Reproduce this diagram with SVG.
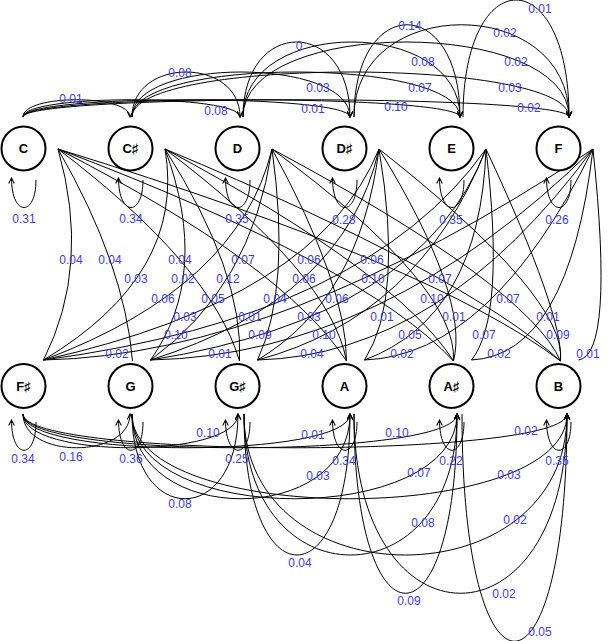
<svg xmlns="http://www.w3.org/2000/svg" width="610" height="641" viewBox="0 0 610 641">
<style>
.e{fill:none;stroke:#000;stroke-width:1}
.a{marker-end:url(#arr)}
.n circle{fill:#fff;stroke:#000;stroke-width:2}
.n text{font-family:"Liberation Sans",Arial,"DejaVu Sans",sans-serif;font-size:13px;font-weight:bold;text-anchor:middle;fill:#000}
.l{font-family:"Liberation Sans",Arial,sans-serif;font-size:12px;fill:#3b3bf2;text-anchor:middle}
</style>
<defs>
<marker id="arr" viewBox="0 0 10 10" refX="9" refY="5" markerWidth="7" markerHeight="7" markerUnits="userSpaceOnUse" orient="auto">
<path d="M1,1 L9,5 L1,9" fill="none" stroke="#000" stroke-width="1.5"/>
</marker>
</defs>
<rect width="610" height="641" fill="#fff"/>
<g id="connectors">
<!-- top row arcs -->
<path class="e a" d="M23,117 C23,94 130,94 130,117"/>
<path class="e a" d="M23,117 C23,94 240,94 240,117"/>
<path class="e a" d="M23,117 C23,94 350,94 350,117"/>
<path class="e a" d="M23,117 C23,94 460,94 460,117"/>
<path class="e a" d="M23,117 C23,94 569,94 569,117"/>
<path class="e a" d="M132,117 C132,57 240,57 240,117"/>
<path class="e a" d="M132,117 C132,57 350,57 350,117"/>
<path class="e a" d="M132,117 C132,57 460,57 460,117"/>
<path class="e a" d="M132,117 C132,57 569,57 569,117"/>
<path class="e a" d="M243,117 C243,17 350,17 350,117"/>
<path class="e a" d="M243,117 C243,17 460,17 460,117"/>
<path class="e a" d="M243,117 C243,17 569,17 569,117"/>
<path class="e a" d="M354,117 C354,-6 460,-6 460,117"/>
<path class="e a" d="M354,117 C354,-6 569,-6 569,117"/>
<path class="e a" d="M463,117 C463,-39 569,-39 569,117"/>
<!-- bottom row arcs -->
<path class="e a" d="M23,414 C23,459 130,459 130,414"/>
<path class="e a" d="M23,414 C23,459 238,459 238,414"/>
<path class="e a" d="M23,414 C23,459 350,459 350,414"/>
<path class="e a" d="M23,414 C23,459 457,459 457,414"/>
<path class="e a" d="M23,414 C23,459 567,459 567,414"/>
<path class="e a" d="M132,414 C132,527 238,527 238,414"/>
<path class="e a" d="M132,414 C132,527 350,527 350,414"/>
<path class="e a" d="M132,414 C132,527 457,527 457,414"/>
<path class="e a" d="M132,414 C132,527 567,527 567,414"/>
<path class="e a" d="M244,414 C244,602 350,602 350,414"/>
<path class="e a" d="M244,414 C244,602 457,602 457,414"/>
<path class="e a" d="M244,414 C244,602 567,602 567,414"/>
<path class="e a" d="M354,414 C354,653 457,653 457,414"/>
<path class="e a" d="M354,414 C354,653 567,653 567,414"/>
<path class="e a" d="M462,414 C462,717 567,717 567,414"/>
<!-- self loops top -->
<path class="e a" d="M36,180 C36,217 11.5,217 11.5,178"/>
<path class="e a" d="M143,180 C143,217 118.5,217 118.5,178"/>
<path class="e a" d="M250,180 C250,217 225.5,217 225.5,178"/>
<path class="e a" d="M357,180 C357,217 332.5,217 332.5,178"/>
<path class="e a" d="M464,180 C464,217 439.5,217 439.5,178"/>
<path class="e a" d="M571,180 C571,217 546.5,217 546.5,178"/>
<!-- self loops bottom -->
<path class="e a" d="M36,422 C36,460 11.5,460 11.5,420"/>
<path class="e a" d="M143,422 C143,460 118.5,460 118.5,420"/>
<path class="e a" d="M250,422 C250,460 225.5,460 225.5,420"/>
<path class="e a" d="M357,422 C357,460 332.5,460 332.5,420"/>
<path class="e a" d="M464,422 C464,460 439.5,460 439.5,420"/>
<path class="e a" d="M571,422 C571,460 546.5,460 546.5,420"/>
<!-- top to bottom -->
<path class="e" d="M58,149 Q91.3,265.5 43.5,360"/>
<path class="e" d="M58,149 Q124.8,265 132.5,361"/>
<path class="e" d="M58,149 Q211.3,265 239.5,361"/>
<path class="e" d="M58,149 Q283.8,265 346.5,361"/>
<path class="e" d="M58,149 Q364.3,265 453.5,361"/>
<path class="e" d="M58,149 Q434.8,265 560.5,361"/>
<path class="e" d="M165,149 Q186.4,274.4 43.5,360"/>
<path class="e" d="M165,149 Q211.3,274.4 150.5,360"/>
<path class="e" d="M165,149 Q244.1,273.7 239.5,361"/>
<path class="e" d="M165,149 Q330.3,273.7 346.5,361"/>
<path class="e" d="M165,149 Q398.1,273.7 453.5,361"/>
<path class="e" d="M165,149 Q463.8,273.7 560.5,361"/>
<path class="e" d="M272,149 Q238.6,287 43.5,360"/>
<path class="e" d="M272,149 Q252,287 150.5,360"/>
<path class="e" d="M272,149 Q291.4,287 257.5,360"/>
<path class="e" d="M272,149 Q346.8,286.1 346.5,361"/>
<path class="e" d="M272,149 Q457.9,286.1 453.5,361"/>
<path class="e" d="M272,149 Q527.7,286.1 560.5,361"/>
<path class="e" d="M379,149 Q318.6,298.7 43.5,360"/>
<path class="e" d="M379,149 Q345.5,298.7 150.5,360"/>
<path class="e" d="M379,149 Q360.2,298.7 257.5,360"/>
<path class="e" d="M379,149 Q404,298.7 364.5,360"/>
<path class="e" d="M379,149 Q469.9,297.4 453.5,361"/>
<path class="e" d="M379,149 Q567.2,297.4 560.5,361"/>
<path class="e" d="M486,149 Q367.2,316.9 43.5,360"/>
<path class="e" d="M486,149 Q422.3,316.9 150.5,360"/>
<path class="e" d="M486,149 Q419.1,316.9 257.5,360"/>
<path class="e" d="M486,149 Q480,316.9 364.5,360"/>
<path class="e" d="M486,149 Q505.9,316.9 471.5,360"/>
<path class="e" d="M486,149 Q563.7,315.2 560.5,361"/>
<path class="e" d="M593,149 Q283.3,355.1 43.5,360"/>
<path class="e" d="M593,149 Q384,355.1 150.5,360"/>
<path class="e" d="M593,149 Q441.6,355.1 257.5,360"/>
<path class="e" d="M593,149 Q491.4,355.1 364.5,360"/>
<path class="e" d="M593,149 Q568.6,355.1 471.5,360"/>
<path class="e" d="M593,149 Q614.5,355.1 578.5,360"/>
</g>
<g id="edge-labels">
<text class="l" x="71" y="103">0.01</text>
<text class="l" x="216" y="115">0.08</text>
<text class="l" x="313" y="113">0.01</text>
<text class="l" x="396" y="111">0.10</text>
<text class="l" x="529" y="112">0.02</text>
<text class="l" x="180" y="77">0.08</text>
<text class="l" x="318" y="92">0.03</text>
<text class="l" x="420" y="92">0.07</text>
<text class="l" x="510" y="92">0.03</text>
<text class="l" x="299" y="50">0</text>
<text class="l" x="423" y="66">0.08</text>
<text class="l" x="516" y="66">0.02</text>
<text class="l" x="410" y="30">0.14</text>
<text class="l" x="505" y="37">0.02</text>
<text class="l" x="540" y="13">0.01</text>
<text class="l" x="24" y="223">0.31</text>
<text class="l" x="131" y="223">0.34</text>
<text class="l" x="237" y="223">0.35</text>
<text class="l" x="344" y="224">0.28</text>
<text class="l" x="451" y="224">0.35</text>
<text class="l" x="557" y="224">0.26</text>
<text class="l" x="23" y="463">0.34</text>
<text class="l" x="131" y="463">0.36</text>
<text class="l" x="237" y="463">0.25</text>
<text class="l" x="344" y="465">0.34</text>
<text class="l" x="451" y="465">0.22</text>
<text class="l" x="557" y="465">0.35</text>
<text class="l" x="71" y="461">0.16</text>
<text class="l" x="208" y="437">0.10</text>
<text class="l" x="313" y="439">0.01</text>
<text class="l" x="397" y="437">0.10</text>
<text class="l" x="526" y="435">0.02</text>
<text class="l" x="180" y="508">0.08</text>
<text class="l" x="318" y="480">0.03</text>
<text class="l" x="419" y="477">0.07</text>
<text class="l" x="509" y="479">0.03</text>
<text class="l" x="300" y="567">0.04</text>
<text class="l" x="423" y="527">0.08</text>
<text class="l" x="515" y="524">0.02</text>
<text class="l" x="409" y="605">0.09</text>
<text class="l" x="504" y="598">0.02</text>
<text class="l" x="540" y="636">0.05</text>
<text class="l" x="71" y="264">0.04</text>
<text class="l" x="110" y="264">0.04</text>
<text class="l" x="180" y="264">0.04</text>
<text class="l" x="243" y="264">0.07</text>
<text class="l" x="309" y="264">0.06</text>
<text class="l" x="372" y="264">0.06</text>
<text class="l" x="136" y="283">0.03</text>
<text class="l" x="183" y="283">0.02</text>
<text class="l" x="228" y="283">0.12</text>
<text class="l" x="304" y="283">0.06</text>
<text class="l" x="373" y="283">0.10</text>
<text class="l" x="440" y="283">0.07</text>
<text class="l" x="163" y="303">0.06</text>
<text class="l" x="213" y="303">0.05</text>
<text class="l" x="275" y="303">0.04</text>
<text class="l" x="337" y="303">0.06</text>
<text class="l" x="432" y="303">0.10</text>
<text class="l" x="508" y="303">0.07</text>
<text class="l" x="185" y="321">0.03</text>
<text class="l" x="250" y="321">0.01</text>
<text class="l" x="309" y="321">0.03</text>
<text class="l" x="382" y="321">0.01</text>
<text class="l" x="454" y="321">0.01</text>
<text class="l" x="548" y="321">0.01</text>
<text class="l" x="176" y="339">0.10</text>
<text class="l" x="260" y="339">0.09</text>
<text class="l" x="324" y="339">0.10</text>
<text class="l" x="410" y="339">0.05</text>
<text class="l" x="484" y="339">0.07</text>
<text class="l" x="558" y="339">0.09</text>
<text class="l" x="117" y="358">0.02</text>
<text class="l" x="220" y="358">0.01</text>
<text class="l" x="312" y="358">0.04</text>
<text class="l" x="402" y="358">0.02</text>
<text class="l" x="499" y="358">0.02</text>
<text class="l" x="588" y="358">0.01</text>
</g>
<g id="node-C" class="n"><circle cx="23.5" cy="148.5" r="22"/><text x="23.5" y="153">C</text></g>
<g id="node-Cs" class="n"><circle cx="130.5" cy="148.5" r="22"/><text x="130.5" y="153">C♯</text></g>
<g id="node-D" class="n"><circle cx="237.5" cy="148.5" r="22"/><text x="237.5" y="153">D</text></g>
<g id="node-Ds" class="n"><circle cx="344.5" cy="148.5" r="22"/><text x="344.5" y="153">D♯</text></g>
<g id="node-E" class="n"><circle cx="451.5" cy="148.5" r="22"/><text x="451.5" y="153">E</text></g>
<g id="node-F" class="n"><circle cx="558.5" cy="148.5" r="22"/><text x="558.5" y="153">F</text></g>
<g id="node-Fs" class="n"><circle cx="23.5" cy="386" r="22"/><text x="23.5" y="390.5">F♯</text></g>
<g id="node-G" class="n"><circle cx="130.5" cy="386" r="22"/><text x="130.5" y="390.5">G</text></g>
<g id="node-Gs" class="n"><circle cx="237.5" cy="386" r="22"/><text x="237.5" y="390.5">G♯</text></g>
<g id="node-A" class="n"><circle cx="344.5" cy="386" r="22"/><text x="344.5" y="390.5">A</text></g>
<g id="node-As" class="n"><circle cx="451.5" cy="386" r="22"/><text x="451.5" y="390.5">A♯</text></g>
<g id="node-B" class="n"><circle cx="558.5" cy="386" r="22"/><text x="558.5" y="390.5">B</text></g>
</svg>
